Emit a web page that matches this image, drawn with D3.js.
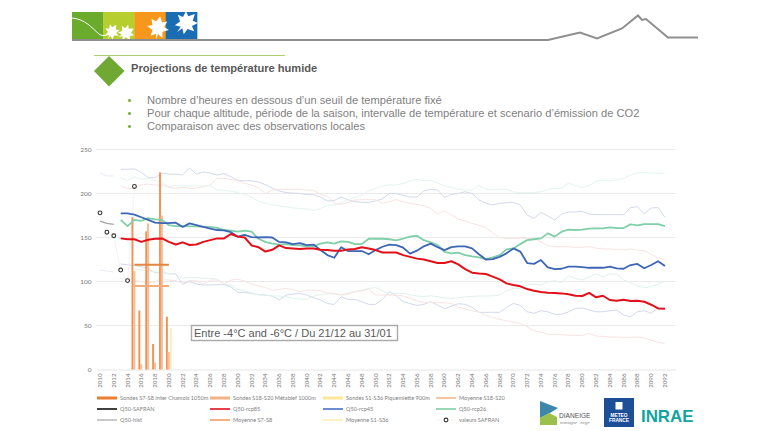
<!DOCTYPE html>
<html><head><meta charset="utf-8">
<script src="https://cdn.jsdelivr.net/npm/d3@7/dist/d3.min.js"></script>
<style>html,body{margin:0;padding:0;background:#fff}svg{display:block}</style>
</head><body><svg id="c" width="768" height="431"></svg>
<script>
const firstYear = 2010, lastYear = 2093;
const lineStart = 2013;
const yTicks = [0,50,100,150,200,250];
const title = "Projections de température humide";
const bullets = ["Nombre d’heures en dessous d’un seuil de température fixé",
 "Pour chaque altitude, période de la saison, intervalle de température et scenario d’émission de CO2",
 "Comparaison avec des observations locales"];
const boxText = "Entre -4°C and -6°C / Du 21/12 au 31/01";

const rcp85 = [149,148,148,145,147.5,148.5,149,145,142,144.5,141.5,142,145,147,149,149,154,151,150,141,139,134,136,141,138,137.5,137,
 137.6,137.6,136,135.7,135,135,136.5,137,139,137.6,135.7,133,133,133,130,128,126,125,123,121,121,123,119.5,114,110,109,108.5,
 105.5,102.4,97.9,96,94.5,91.4,89.5,88,87.3,86.9,86.5,85.4,83.8,83.5,87,82,83.8,79,78,79.3,77.8,78,77,73.6,69.4,69];
const rcp45 = [177.4,177.4,176,173,170,167,166.4,166.4,166.8,162,166,164,162,160,158.5,158,156,151,153,150.5,150,150.5,150,145,144.5,142.5,143.7,
 141.4,142,135.7,130,127,139,134.6,134.6,134.6,131,135.7,139.5,142,141.4,138.4,131.6,135,140,143,139,135.7,139,140,140,137.6,131,125,
 125.5,128,132,137.6,134,121,120,124.4,116,114,114.5,116.8,116.8,116.4,115.6,115.6,115.6,116.8,115,114.5,118.7,120,115,118.7,123,117.5];
const rcp26 = [170,163,170,169,172,170.6,170,164,163,163,162.6,162.6,162,162,161,158.5,157.7,156.6,157.7,156.6,148.6,145,143,142,142.5,141.4,141,
 140,140,143,144.5,143,145.6,145,142.5,142.5,148.6,148.6,148.6,148,146.7,148.6,151,152,147,144.5,141.4,133.8,132,132.7,130,128.5,127.4,125.5,
 127.4,130,136.5,137.6,142.5,147,148,149,154.7,151,156.6,159,158.5,159,160,160.4,160.4,161.5,160.7,160.7,165,163.8,165.3,165.3,165.3,163];

const paleHighPurple = [227.5,227.5,228,224,218,218,223,222,222,221,229,222,224.5,223,221,222.5,219,215,214.5,214.5,213,210,206,203,201,200.5,200,
 198.6,198.6,196,191.5,192,196,193,190.7,190,190,191.5,194,200,200,198,196,196,202.8,204.7,204,195.6,199,200,202,200,192.6,189,
 187,188.8,189.5,190,187,175.5,171.7,178.6,174.4,169.8,176.7,179,179,179.7,176.7,176,176,176,176,176,184,185,176.7,183.5,184,173];
const paleHighPink = [208.5,205.5,206,209.6,210.8,209.6,209.6,207,205.8,207,205.8,206,207.7,209.6,217,217,216,215,211.5,209.6,206.6,200,204,204.7,204.7,204.7,205,
 203.9,203.5,199,197,189,187.6,190,192.6,193,193,193,188.8,190.7,193,190.7,188.8,187.7,186,183,176.7,180.5,175.5,171,168.8,166,164,161.5,
 155,150,149,149,149,149,149,145,141,139.5,139.5,139.5,138.8,138.8,139.5,138,137,137,136.5,135.7,137,135.7,135,131,127,125];
const paleHighTeal = [218,214.7,219,216,217,215,212,208,209,208.6,208.5,208.6,208.6,209,204,203.6,202.7,201,199,196,191,189,187,186,185,183.5,183,
 182.4,180.5,183,186.3,187,189.5,192.6,195.6,198,203,205.9,208.5,209.6,209.6,211.5,214.5,216,214.5,215,212,208.5,207,204.7,204,204,209.3,204.7,
 204,205,204.7,201.7,201,201,201,202,204.7,205.5,206,212,209,206.6,209,214,214.5,214.5,215.6,217.3,221,223.7,223.7,223.4,223,223];
const paleLowPurple = [119.9,119,118,116.8,115,110,110,109,108.5,97,100,97,96,96,96.4,96.4,94,87.6,87.6,86.5,85,84.6,83.5,79,84.6,85.7,86.5,
 84.6,81.6,79,75,74,82.7,79.7,79.7,77,74,74,79.7,88.4,83.5,77,75,72.8,74,77,73,69,72,74.7,74,70.6,65,65,
 65,65,70.6,75,73,65.6,63.8,66.8,65.6,62.6,62.6,65.6,69.4,70,67.6,65.6,65.6,66.8,67.6,61.9,60,65.6,66.8,63.8,70.6,69.4];
const paleLowTeal = [null,null,113.8,113,111.9,110.8,110,109,108.5,103.6,104.7,104.7,103.6,103.6,102.8,97,96,91,89.5,87,85,84.6,83.5,83.5,82.7,80.8,80,
 79.7,83.5,85,86,85.7,84.6,85.7,88.4,90.3,92,93.3,89.5,85,86.5,86.5,85,83.5,83,83.8,82.7,81.6,80.8,81.6,82.7,83,83.5,83.5,
 83.8,84.6,89.5,91.8,92,96.7,97,96,99.8,100.9,98.6,106.6,103.6,101.7,105.4,108.5,105.4,108.5,108.5,101.7,98.6,94.8,93.3,94,97,100.5];
const paleLowPink = [103.6,102.4,100.9,100,97.9,99.8,101.7,101.7,101,97.9,101,101,97,101.7,101.7,97,101.7,102.4,100.5,97,94.8,93.3,89.5,91,92,91,88.4,
 90.3,90.3,89.5,87,86.5,85,86.5,88.4,89.5,91,84.6,84.6,84.6,84.6,83.5,80.8,78,75.9,76,75.9,75.9,75,71,68.7,66.8,65,61.9,
 59,57,55.4,53.5,52.4,48.6,44,42.5,40,40,39.5,39,38.7,38.7,41,38,37.6,37,36.8,36.5,36.5,37,35.7,33.4,31,29.6];

const histYears = [2010,2011,2012];
const q50Hist = [168.7,166,165];
const histHigh = [223.7,220,220];
const histLow = [113,112,111];

const safranYears = [2010,2011,2012,2013,2014,2015];
const safranValues = [178,156,152,113,101,208];

const barYears = [2015,2016,2017,2018,2019,2020];
const sondesS7 = [173,67,157,29,224,60];
const sondesS18 = [112,6,166,8,175,20];
const sondesS1 = [0,0,0,0,0,47];
const meanYears = [2015,2020];
const meanS7 = [119,119];
const meanS18 = [95,95];

const legendRows = [
 [["Sondes S7-S8 Inter Chamois 1050m","#ed7d31",3],["Sondes S18-S20 Métabief 1000m","#f4b183",3],["Sondes S1-S36 Piquemiette 900m","#ffe699",3],["Moyenne S18-S20","#f4b183",1.5]],
 [["Q50-SAFRAN","#111111",1.6],["Q50-rcp85","#e3101a",1.6],["Q50-rcp45","#4472c4",1.6],["Q50-rcp26","#7fcfa8",1.6]],
 [["Q50-hist","#a5a5a5",1.2],["Moyenne S7-S8","#ed7d31",1.2],["Moyenne S1-S36","#ffe699",1.2],["valeurs SAFRAN",null,0]]
];

const svg = d3.select("#c");
const FONT = "'Liberation Sans',Arial,sans-serif";

// Header
const logoColors = ["#6aab2b","#b6cf2e","#f7981d","#1b6db2"];
const logoX = d3.scaleLinear().domain([0,4]).range([72,197]);
svg.selectAll("rect.logo").data(logoColors).join("rect")
  .attr("x",(d,i)=>logoX(i)).attr("y",12).attr("width",31.6).attr("height",27).attr("fill",d=>d);
const leaf = "M0,-12 L3,-6 L8,-8 L6,-2 L11,0 L5,3 L6,9 L1,6 L0,12 L-1,6 L-6,9 L-5,3 L-11,0 L-6,-2 L-8,-8 L-3,-6 Z";
[[112,32,.7,30],[126,33,.75,60],[158,28,1.0,10],[186,23,1.05,45]].forEach(l=>
 svg.append("path").attr("d",leaf).attr("fill","#fff").attr("transform",`translate(${l[0]},${l[1]}) rotate(${l[3]}) scale(${l[2]})`));
svg.append("path").attr("d","M72,18 C85,19 92,28 99,34 C104,38 110,34 116,26").attr("fill","none").attr("stroke","#fff").attr("stroke-width",1);
svg.append("path").attr("d","M72,40 L548,40 L580,32.5 L597,38.5 L622,28.5 L638,15.5 L642,20 L646,19 L668,37.5 L698,37.5")
  .attr("fill","none").attr("stroke","#8f8f8f").attr("stroke-width",2);
svg.append("line").attr("x1",94).attr("x2",285).attr("y1",55.5).attr("y2",55.5).attr("stroke","#abd070").attr("stroke-width",1);
svg.append("path").attr("d","M109,56 L124.5,71 L109,86.5 L94,71 Z").attr("fill","#6fa832");
svg.append("text").attr("x",131).attr("y",72).attr("font-family",FONT).attr("font-weight","bold").attr("font-size",11.1).attr("fill","#595959").text(title);
bullets.forEach((b,i)=>{
  const y=[104,117,130][i];
  svg.append("text").attr("x",127.5).attr("y",y).attr("font-family",FONT).attr("font-size",11).attr("fill","#6fa832").text("•");
  svg.append("text").attr("x",147).attr("y",y).attr("font-family",FONT).attr("font-size",11.15).attr("fill","#7f7f7f").text(b);
});

// Chart
const years = d3.range(firstYear,lastYear+1);
const x = d3.scaleBand().domain(years).range([96.55,675.3]);
const cx = d => x(d)+x.bandwidth()/2;
const y = d3.scaleLinear().domain([0,250]).range([369.5,149.5]);

svg.append("g").selectAll("line").data(yTicks.filter(d=>d>0)).join("line")
  .attr("x1",96.5).attr("x2",675.5).attr("y1",d=>y(d)).attr("y2",d=>y(d)).attr("stroke","#e6e6e6").attr("stroke-width",0.8);

const yAxis = d3.axisLeft(y).tickValues(yTicks).tickSize(0).tickPadding(5);
const gy = svg.append("g").attr("transform","translate(96.5,0)").call(yAxis);
gy.select(".domain").remove();
gy.selectAll("text").attr("font-family","Lato,sans-serif").attr("font-size",6.5).attr("fill","#777");

const xAxis = d3.axisBottom(x).tickValues(years.filter(d=>d%2===0)).tickSize(0);
const gx = svg.append("g").attr("transform","translate(0,369.5)").call(xAxis);
gx.select(".domain").attr("stroke","#e0e0e0").attr("stroke-width",0.8);
gx.selectAll("text").attr("font-family","Lato,sans-serif").attr("font-size",6.2).attr("fill","#777")
  .attr("text-anchor","end").attr("transform","rotate(-90)").attr("x",-4).attr("y",0).attr("dy","0.32em");

const line = d3.line().defined(d=>d[1]!=null).x(d=>cx(d[0])).y(d=>y(d[1]));
const mainPairs = v => v.map((d,i)=>[lineStart+i,d]);
const zip = (a,b) => a.map((d,i)=>[d,b[i]]);
const drawLine = (pts,color,w,op=1) => svg.append("path").attr("d",line(pts)).attr("fill","none")
  .attr("stroke",color).attr("stroke-width",w).attr("opacity",op).attr("stroke-linejoin","round");

[[paleHighPurple,"#d3d9ec"],[paleHighPink,"#f9e3e3"],[paleHighTeal,"#e4f4ef"],
 [paleLowPurple,"#d3d9ec"],[paleLowTeal,"#e0f2ec"],[paleLowPink,"#f9e3e3"]]
 .forEach(s=>drawLine(mainPairs(s[0]),s[1],1));
drawLine(zip(histYears,histHigh),"#e8ebf3",1);
drawLine(zip(histYears,histLow),"#e8ebf3",1);

// SAFRAN connector (very faint)
drawLine(zip(safranYears,safranValues),"#f0f0f0",0.8);

// Bars
const barSeries = [[sondesS7,"#ee9153",-2,1.9],[sondesS18,"#f6bd96",-0.2,2.2],[sondesS1,"#fbe9b8",1.9,1.6]];
barSeries.forEach(s=>{
  svg.append("g").selectAll("rect").data(s[0].map((v,i)=>[barYears[i],v])).join("rect")
    .attr("x",d=>cx(d[0])+s[2]-s[3]/2).attr("width",s[3])
    .attr("y",d=>y(d[1])).attr("height",d=>y(0)-y(d[1])).attr("fill",s[1]);
});
drawLine(zip(meanYears,meanS7),"#e2873f",2);
drawLine(zip(meanYears,meanS18),"#f0ad7d",2);

drawLine(zip(histYears,q50Hist),"#a5a5a5",1.3);
drawLine(mainPairs(rcp26),"#7fcfa8",1.8);
drawLine(mainPairs(rcp45),"#3d66b6",1.8);
drawLine(mainPairs(rcp85),"#e3101a",2);

svg.append("g").selectAll("circle").data(zip(safranYears,safranValues)).join("circle")
  .attr("cx",d=>cx(d[0])).attr("cy",d=>y(d[1])).attr("r",1.9)
  .attr("fill","#fff").attr("stroke","#333").attr("stroke-width",1.1);

svg.append("rect").attr("x",191.5).attr("y",325.5).attr("width",206).attr("height",15)
  .attr("fill","#fff").attr("stroke","#a9a9a9").attr("stroke-width",1.4);
svg.append("text").attr("x",194).attr("y",337).attr("font-family",FONT).attr("font-size",11).attr("fill","#595959").text(boxText);

// Legend
const legCols = [97,210,323,436], legY = [398,409,420];
legendRows.forEach((row,r)=>row.forEach((it,c)=>{
  const x0=legCols[c], yy=legY[r];
  if(it[1]) svg.append("line").attr("x1",x0).attr("x2",x0+20).attr("y1",yy).attr("y2",yy).attr("stroke",it[1]).attr("stroke-width",it[2]);
  else {
    svg.append("line").attr("x1",x0).attr("x2",x0+20).attr("y1",yy).attr("y2",yy).attr("stroke","#ececec").attr("stroke-width",.7);
    svg.append("circle").attr("cx",x0+10).attr("cy",yy).attr("r",1.9).attr("fill","#fff").attr("stroke","#333").attr("stroke-width",1.1);
  }
  svg.append("text").attr("x",x0+23).attr("y",yy+2).attr("font-family","Lato,sans-serif").attr("font-size",5.6).attr("fill","#808080").text(it[0]);
}));

// Partner marks
svg.append("path").attr("d","M540,401 L558,408 L550,413 L540,418 Z").attr("fill","#3f86ad");
svg.append("path").attr("d","M540,418 L549,413 L557,417 L557,425 L540,425 Z").attr("fill","#9cc14b");
svg.append("text").attr("x",559).attr("y",418).attr("font-family",FONT).attr("font-size",6.6).attr("fill","#555").text("DIANEIGE");
svg.append("text").attr("x",560).attr("y",424).attr("font-family",FONT).attr("font-style","italic").attr("font-size",3.8).attr("fill","#888").text("montagne · neige");
svg.append("rect").attr("x",604).attr("y",398).attr("width",30).attr("height",29).attr("fill","#1d4f98");
svg.append("rect").attr("x",615.5).attr("y",402).attr("width",7).attr("height",7.5).attr("fill","#fff");
svg.append("text").attr("x",619).attr("y",416.5).attr("text-anchor","middle").attr("font-family",FONT).attr("font-weight","bold").attr("font-size",4.8).attr("fill","#fff").text("METEO");
svg.append("text").attr("x",619).attr("y",422).attr("text-anchor","middle").attr("font-family",FONT).attr("font-weight","bold").attr("font-size",4.8).attr("fill","#fff").text("FRANCE");
svg.append("text").attr("x",641).attr("y",422).attr("font-family",FONT).attr("font-weight","bold").attr("font-size",17).attr("fill","#12a3a3").attr("textLength",52.5).attr("lengthAdjust","spacingAndGlyphs").text("INRAE");
</script></body></html>
